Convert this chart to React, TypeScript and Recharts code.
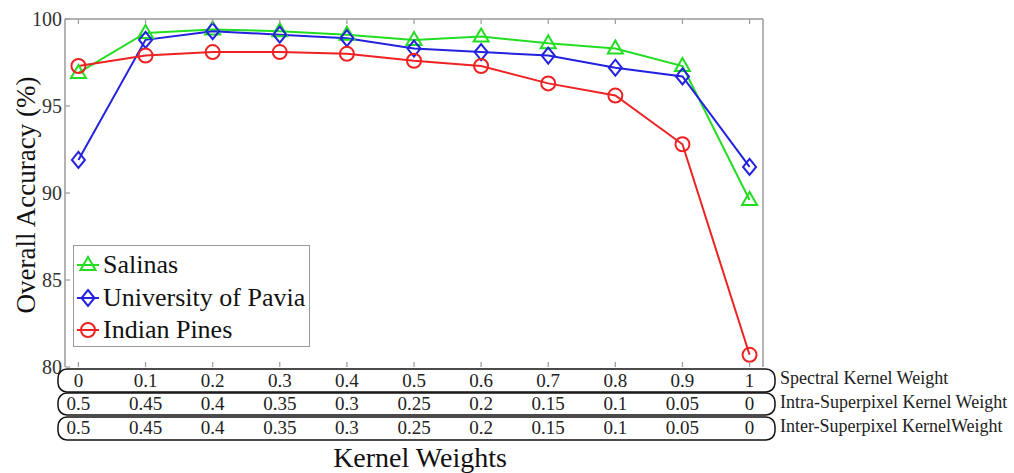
import { LineChart, Line, XAxis, YAxis, Legend } from "recharts";

const spectralWeights = [0, 0.1, 0.2, 0.3, 0.4, 0.5, 0.6, 0.7, 0.8, 0.9, 1];
const intraWeights = ["0.5", "0.45", "0.4", "0.35", "0.3", "0.25", "0.2", "0.15", "0.1", "0.05", "0"];
const interWeights = ["0.5", "0.45", "0.4", "0.35", "0.3", "0.25", "0.2", "0.15", "0.1", "0.05", "0"];

const salinas = [96.9, 99.2, 99.4, 99.3, 99.1, 98.8, 99.0, 98.6, 98.3, 97.3, 89.6];
const pavia = [91.9, 98.8, 99.3, 99.1, 98.9, 98.3, 98.1, 97.9, 97.2, 96.7, 91.5];
const indianPines = [97.3, 97.9, 98.1, 98.1, 98.0, 97.6, 97.3, 96.3, 95.6, 92.8, 80.7];

const yTicks = [80, 85, 90, 95, 100];
const rowLabels = ["Spectral Kernel Weight", "Intra-Superpixel Kernel Weight", "Inter-Superpixel KernelWeight"];

const series = [
  { key: "salinas", name: "Salinas", color: "#22dd22", shape: "triangle" },
  { key: "pavia", name: "University of Pavia", color: "#2222e0", shape: "diamond" },
  { key: "indian", name: "Indian Pines", color: "#ee2222", shape: "circle" },
];

const data = spectralWeights.map((w, i) => ({
  w,
  salinas: salinas[i],
  pavia: pavia[i],
  indian: indianPines[i],
}));

const SERIF = '"Liberation Serif", "Times New Roman", serif';
const AXIS = "#9a9a9a";

function Marker({ shape, cx, cy, color }: { shape: string; cx: number; cy: number; color: string }) {
  const common = { fill: "none", stroke: color, strokeWidth: 2 };
  if (shape === "triangle") {
    return <polygon points={`${cx},${cy - 8} ${cx - 7.5},${cy + 5} ${cx + 7.5},${cy + 5}`} {...common} />;
  }
  if (shape === "diamond") {
    return <polygon points={`${cx},${cy - 8} ${cx + 6.5},${cy} ${cx},${cy + 8} ${cx - 6.5},${cy}`} {...common} />;
  }
  return <circle cx={cx} cy={cy} r={7} {...common} />;
}

function LeftTick({ x, y, payload }: any) {
  return (
    <g>
      <line x1={x} x2={x + 5} y1={y} y2={y} stroke={AXIS} strokeWidth={1.2} />
      <text x={x - 3} y={y} textAnchor="end" dominantBaseline="central" fontFamily={SERIF} fontSize={20} fill="#333">
        {payload.value}
      </text>
    </g>
  );
}

function RightTick({ x, y }: any) {
  return <line x1={x - 5} x2={x} y1={y} y2={y} stroke={AXIS} strokeWidth={1.2} />;
}

function TopTick({ x, y }: any) {
  return <line x1={x} x2={x} y1={y} y2={y + 5} stroke={AXIS} strokeWidth={1.2} />;
}

// the three weight rows share the bottom ticks
function BottomTick({ x, y, payload, index }: any) {
  const txt = { textAnchor: "middle" as const, fontFamily: SERIF, fontSize: 19, fill: "#222" };
  return (
    <g>
      <line x1={x} x2={x} y1={y - 5} y2={y} stroke={AXIS} strokeWidth={1.2} />
      <text x={x} y={y + 20} {...txt}>{payload.value}</text>
      <text x={x} y={y + 43} {...txt}>{intraWeights[index]}</text>
      <text x={x} y={y + 67} {...txt}>{interWeights[index]}</text>
    </g>
  );
}

function renderLegend() {
  return (
    <div
      style={{
        width: 237,
        height: 102,
        border: `1.5px solid ${AXIS}`,
        background: "#fff",
        boxSizing: "border-box",
        paddingTop: 3,
      }}
    >
      {series.map((s) => (
        <div key={s.key} style={{ display: "flex", alignItems: "center", height: 32.5 }}>
          <svg width={28} height={24} style={{ marginLeft: 1 }}>
            <line x1={2} x2={24} y1={12} y2={12} stroke={s.color} strokeWidth={2} />
            <Marker shape={s.shape} cx={13} cy={12} color={s.color} />
          </svg>
          <span style={{ fontFamily: SERIF, fontSize: 26, color: "#111", lineHeight: "26px" }}>{s.name}</span>
        </div>
      ))}
    </div>
  );
}

export default function App() {
  return (
    <div style={{ position: "absolute", left: 0, top: 0, width: 1014, height: 473, background: "#fff" }}>
      <LineChart width={1014} height={473} data={data} margin={{ top: 18, right: 250, bottom: 105, left: 64 }}>
        <XAxis
          dataKey="w"
          type="number"
          domain={[-0.02, 1.02]}
          ticks={spectralWeights}
          interval={0}
          height={1}
          tickSize={0}
          tickMargin={0}
          axisLine={false}
          tickLine={false}
          tick={<BottomTick />}
        />
        <XAxis
          xAxisId="top"
          orientation="top"
          dataKey="w"
          type="number"
          domain={[-0.02, 1.02]}
          ticks={spectralWeights}
          interval={0}
          height={1}
          tickSize={0}
          tickMargin={0}
          axisLine={{ stroke: AXIS, strokeWidth: 1.5 }}
          tickLine={false}
          tick={<TopTick />}
        />
        <YAxis
          type="number"
          domain={[80, 100]}
          ticks={yTicks}
          interval={0}
          width={1}
          tickSize={0}
          tickMargin={0}
          axisLine={{ stroke: AXIS, strokeWidth: 1.5 }}
          tickLine={false}
          tick={<LeftTick />}
        />
        <YAxis
          yAxisId="right"
          orientation="right"
          type="number"
          domain={[80, 100]}
          ticks={yTicks}
          interval={0}
          width={1}
          tickSize={0}
          tickMargin={0}
          axisLine={{ stroke: AXIS, strokeWidth: 1.5 }}
          tickLine={false}
          tick={<RightTick />}
        />
        <Legend
          layout="vertical"
          align="center"
          verticalAlign="middle"
          content={renderLegend}
          wrapperStyle={{ left: 73, top: 245, width: 237, height: 102 }}
        />
        {series.map((s) => (
          <Line
            key={s.key}
            dataKey={s.key}
            name={s.name}
            stroke={s.color}
            strokeWidth={2}
            isAnimationActive={false}
            dot={(p: any) => <Marker key={`${s.key}-${p.index}`} shape={s.shape} cx={p.cx} cy={p.cy} color={s.color} />}
            activeDot={false}
          />
        ))}
      </LineChart>
      <svg
        width={1014}
        height={473}
        style={{ position: "absolute", left: 0, top: 0, pointerEvents: "none" }}
      >
        <rect x={58} y={369} width={717} height={23} rx={9} fill="none" stroke="#111" strokeWidth={1.5} />
        <rect x={58} y={393} width={717} height={22} rx={9} fill="none" stroke="#111" strokeWidth={1.5} />
        <rect x={58} y={417} width={717} height={23} rx={9} fill="none" stroke="#111" strokeWidth={1.5} />
        {rowLabels.map((label, i) => (
          <text key={label} x={780} y={384 + i * 24} fontFamily={SERIF} fontSize={18} fill="#222">
            {label}
          </text>
        ))}
        <text x={420} y={467} textAnchor="middle" fontFamily={SERIF} fontSize={28} fill="#111">
          Kernel Weights
        </text>
        <text
          x={35}
          y={195}
          textAnchor="middle"
          transform="rotate(-90 35 195)"
          fontFamily={SERIF}
          fontSize={27}
          fill="#111"
        >
          Overall Accuracy (%)
        </text>
      </svg>
    </div>
  );
}
